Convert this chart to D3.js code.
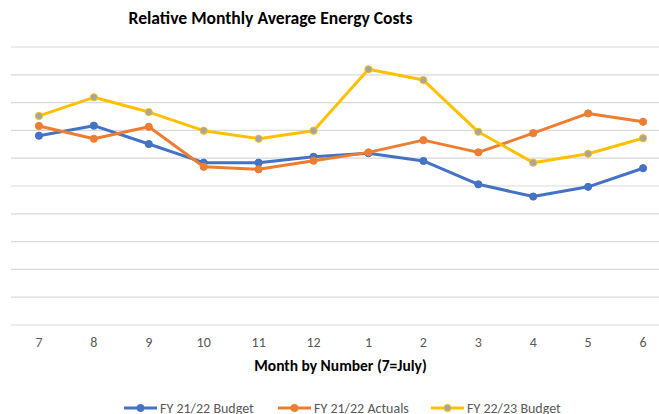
<!DOCTYPE html>
<html>
<head>
<meta charset="utf-8">
<script src="https://cdn.jsdelivr.net/npm/d3@7"></script>
<style>
  html, body { margin: 0; padding: 0; background: #fff; overflow: hidden; }
  svg { display: block; font-family: Carlito, 'Open Sans', 'Noto Sans', sans-serif; }
</style>
</head>
<body>
<div id="chart"></div>
<script>
// Months of the fiscal year, July first
const months = ['7', '8', '9', '10', '11', '12', '1', '2', '3', '4', '5', '6'];
// Relative values (gridline units, unlabeled axis)
const budget2122 = [6.81, 7.17, 6.51, 5.84, 5.84, 6.05, 6.18, 5.90, 5.06, 4.62, 4.97, 5.64];
const actuals2122 = [7.16, 6.70, 7.13, 5.69, 5.60, 5.91, 6.21, 6.65, 6.21, 6.90, 7.61, 7.31];
const budget2223 = [7.52, 8.19, 7.66, 6.99, 6.70, 6.99, 9.20, 8.81, 6.95, 5.84, 6.16, 6.72];
const yTicks = [0, 1, 2, 3, 4, 5, 6, 7, 8, 9, 10];

const series = [
  { name: 'FY 21/22 Budget', values: budget2122, stroke: '#4472C4', fill: '#4472C4' },
  { name: 'FY 21/22 Actuals', values: actuals2122, stroke: '#ED7D31', fill: '#ED7D31' },
  { name: 'FY 22/23 Budget', values: budget2223, stroke: '#FFC000', fill: '#A5A5A5' },
];

const W = 659, H = 414;
const svg = d3.select('#chart').append('svg').attr('width', W).attr('height', H);

// plot area runs off the right edge of the picture, like the cropped original
const x = d3.scaleBand().domain(months).range([11.5, 670.5]);
const y = d3.scaleLinear().domain([0, 10]).range([325, 47]);
const cx = m => x(m) + x.bandwidth() / 2;

// title
svg.append('text').attr('x', 270.5).attr('y', 24).attr('text-anchor', 'middle')
  .style('font-size', '17.6px').style('font-weight', 'bold').style('fill', '#000')
  .text('Relative Monthly Average Energy Costs');

// gridlines
svg.append('g').selectAll('line').data(yTicks).enter().append('line')
  .attr('x1', 11).attr('x2', W)
  .attr('y1', d => y(d)).attr('y2', d => y(d))
  .attr('stroke', '#d9d9d9').attr('stroke-width', 1.2);

// x axis labels
const xAxis = d3.axisBottom(x).tickSize(0).tickPadding(12);
const gx = svg.append('g').attr('transform', `translate(0,${y(0)})`).call(xAxis);
gx.select('.domain').remove();
gx.selectAll('text').style('font-size', '14px').style('fill', '#595959')
  .style('font-family', "Carlito, 'Open Sans', sans-serif");

svg.append('text').attr('x', 340.5).attr('y', 371).attr('text-anchor', 'middle')
  .style('font-size', '15.5px').style('font-weight', 'bold').style('fill', '#000')
  .text('Month by Number (7=July)');

// lines + markers
const line = d3.line().x((d, i) => cx(months[i])).y(d => y(d));
series.forEach(s => {
  svg.append('path').datum(s.values).attr('d', line)
    .attr('fill', 'none').attr('stroke', s.stroke).attr('stroke-width', 3)
    .attr('stroke-linejoin', 'round').attr('stroke-linecap', 'round');
  svg.append('g').selectAll('circle').data(s.values).enter().append('circle')
    .attr('cx', (d, i) => cx(months[i])).attr('cy', d => y(d)).attr('r', 3.6)
    .attr('fill', s.fill).attr('stroke', s.stroke).attr('stroke-width', 1);
});

// legend (sits at the bottom edge, as in the original)
const legX = [124, 278, 431];
const leg = svg.append('g').selectAll('g').data(series).enter().append('g')
  .attr('transform', (d, i) => `translate(${legX[i]},408)`);
leg.append('line').attr('x1', 0).attr('x2', 33).attr('y1', 0).attr('y2', 0)
  .attr('stroke', d => d.stroke).attr('stroke-width', 3);
leg.append('circle').attr('cx', 16.5).attr('cy', 0).attr('r', 3.6)
  .attr('fill', d => d.fill).attr('stroke', d => d.stroke);
leg.append('text').attr('x', 36).attr('y', 5)
  .style('font-size', '14px').style('fill', '#595959').text(d => d.name);
</script>
</body>
</html>
